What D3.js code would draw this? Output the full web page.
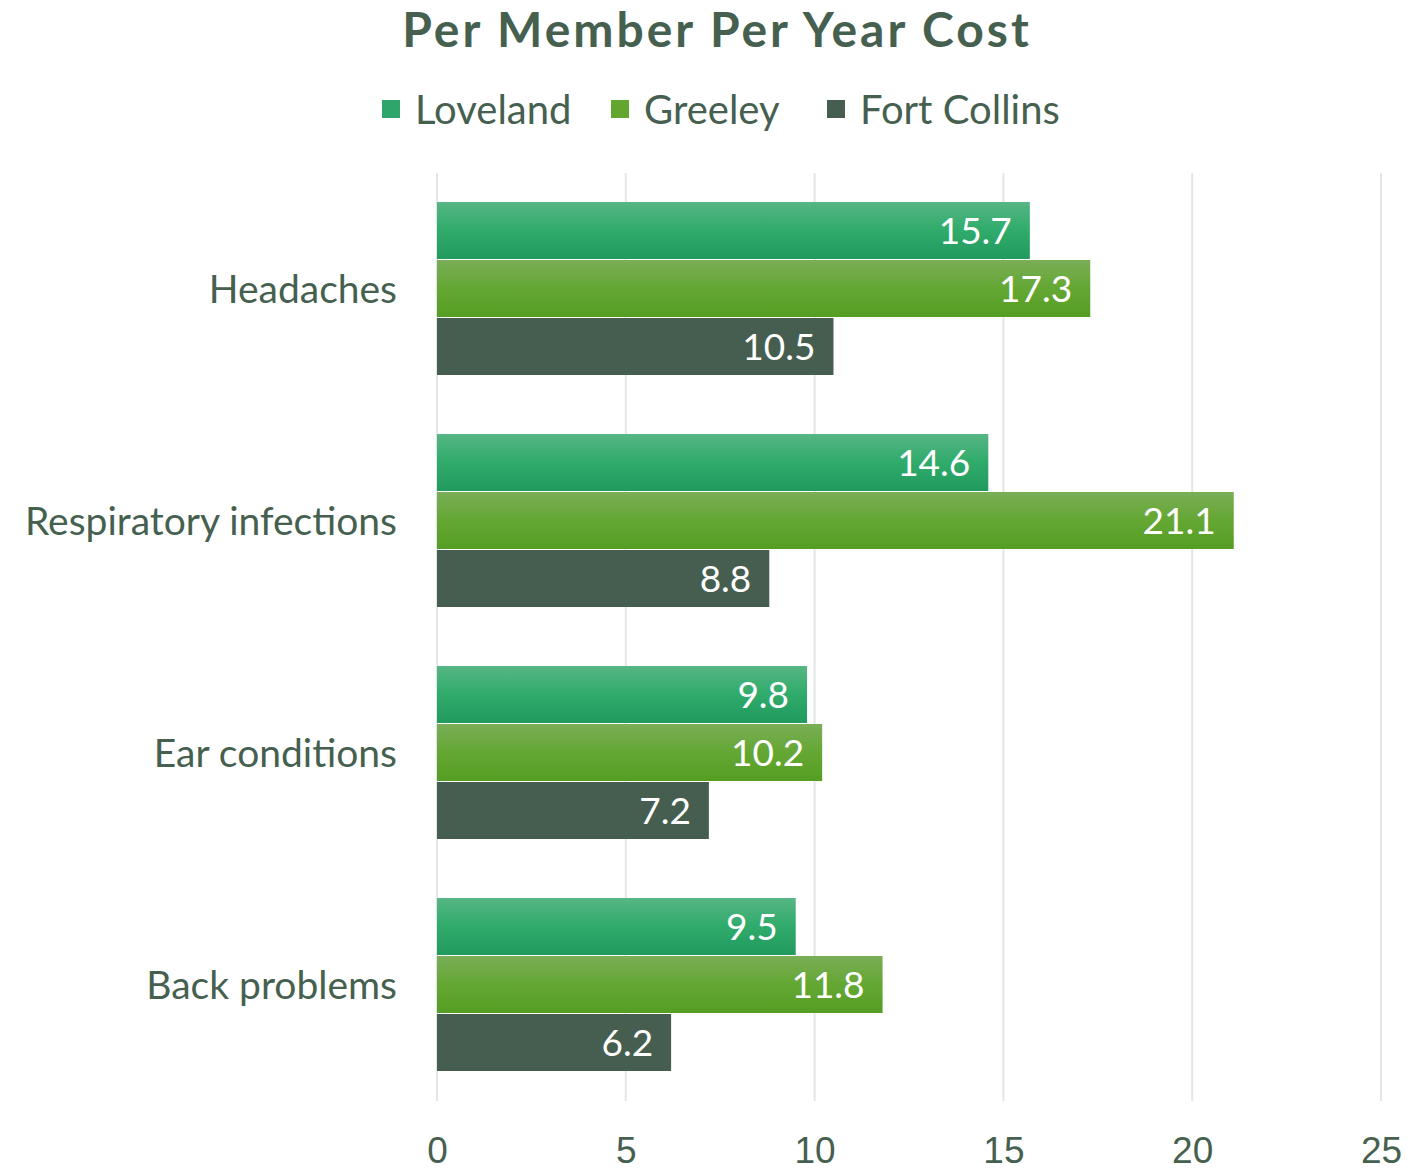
<!DOCTYPE html>
<html>
<head>
<meta charset="utf-8">
<script src="https://cdn.jsdelivr.net/npm/d3@7"></script>
<style>
  body { margin: 0; background: #fff; }
  svg { font-family: "Gill Sans", Lato, sans-serif; }
</style>
</head>
<body>
<svg id="chart"></svg>
<script>
const categories = ['Headaches', 'Respiratory infections', 'Ear conditions', 'Back problems'];
const seriesNames = ['Loveland', 'Greeley', 'Fort Collins'];
const loveland = [15.7, 14.6, 9.8, 9.5];
const greeley = [17.3, 21.1, 10.2, 11.8];
const fortCollins = [10.5, 8.8, 7.2, 6.2];
const xTicks = [0, 5, 10, 15, 20, 25];

const width = 1407;
const height = 1172;
const margin = { top: 173, right: 26, bottom: 71, left: 437 };
const textColor = '#466050';

const svg = d3.select('#chart')
  .attr('width', width)
  .attr('height', height);

const defs = svg.append('defs');
const grads = [
  { id: 'g0', top: '#57b685', mid: '#2fab6b', bottom: '#229a5e' },
  { id: 'g1', top: '#7aae57', mid: '#64a733', bottom: '#559e22' },
];
grads.forEach(g => {
  const lg = defs.append('linearGradient')
    .attr('id', g.id)
    .attr('x1', 0).attr('y1', 0).attr('x2', 0).attr('y2', 1);
  lg.append('stop').attr('offset', '0%').attr('stop-color', g.top);
  lg.append('stop').attr('offset', '50%').attr('stop-color', g.mid);
  lg.append('stop').attr('offset', '100%').attr('stop-color', g.bottom);
});
const fills = ['url(#g0)', 'url(#g1)', '#465e50'];
const legendFills = ['#2ea56a', '#62a630', '#465e50'];

const x = d3.scaleLinear()
  .domain([0, 25])
  .range([margin.left, width - margin.right]);

const y0 = d3.scaleBand()
  .domain(categories)
  .range([margin.top, height - margin.bottom])
  .paddingInner(0.25)
  .paddingOuter(0.125);

const y1 = d3.scaleBand()
  .domain(seriesNames)
  .range([0, y0.bandwidth()]);

// gridlines
svg.append('g')
  .selectAll('line')
  .data(xTicks)
  .enter()
  .append('line')
  .attr('x1', d => x(d)).attr('x2', d => x(d))
  .attr('y1', margin.top).attr('y2', height - margin.bottom)
  .attr('stroke', '#e2e6e4')
  .attr('stroke-width', 2);

// x axis
const xAxis = svg.append('g')
  .attr('transform', `translate(0, ${height - margin.bottom})`)
  .call(d3.axisBottom(x).tickValues(xTicks).tickSize(0).tickPadding(36));
xAxis.select('.domain').remove();
xAxis.selectAll('text')
  .attr('fill', textColor)
  .style('font-size', '37px');

// category labels
svg.append('g')
  .selectAll('text')
  .data(categories)
  .enter()
  .append('text')
  .attr('x', margin.left - 40)
  .attr('y', d => y0(d) + y0.bandwidth() / 2)
  .attr('dy', '0.35em')
  .attr('text-anchor', 'end')
  .attr('fill', textColor)
  .style('font-size', '39px')
  .text(d => d);

const rows = categories.map((c, i) => ({
  category: c,
  values: [loveland[i], greeley[i], fortCollins[i]]
}));

const groups = svg.append('g')
  .selectAll('g')
  .data(rows)
  .enter()
  .append('g')
  .attr('transform', d => `translate(0, ${y0(d.category)})`);

const bars = groups.selectAll('g')
  .data(d => d.values.map((v, j) => ({ name: seriesNames[j], value: v, idx: j })))
  .enter()
  .append('g');

bars.append('rect')
  .attr('x', x(0))
  .attr('y', d => y1(d.name))
  .attr('width', d => x(d.value) - x(0))
  .attr('height', y1.bandwidth() - 1)
  .attr('fill', d => fills[d.idx]);

bars.append('text')
  .attr('x', d => x(d.value) - 18)
  .attr('y', d => y1(d.name) + y1.bandwidth() / 2)
  .attr('dy', '0.35em')
  .attr('text-anchor', 'end')
  .attr('fill', '#fff')
  .style('font-size', '37px')
  .text(d => d.value.toFixed(1));

// title
svg.append('text')
  .attr('x', 717)
  .attr('y', 47)
  .attr('text-anchor', 'middle')
  .attr('fill', textColor)
  .style('font-size', '48px')
  .style('font-weight', 'bold')
  .style('letter-spacing', '3px')
  .text('Per Member Per Year Cost');

// legend
const legendX = [382, 611, 827];
const legend = svg.append('g')
  .selectAll('g')
  .data(seriesNames)
  .enter()
  .append('g')
  .attr('transform', (d, i) => `translate(${legendX[i]}, 100)`);
legend.append('rect')
  .attr('width', 18).attr('height', 18)
  .attr('fill', (d, i) => legendFills[i]);
legend.append('text')
  .attr('x', 33)
  .attr('y', 24)
  .attr('fill', textColor)
  .style('font-size', '40px')
  .text(d => d);
</script>
</body>
</html>
